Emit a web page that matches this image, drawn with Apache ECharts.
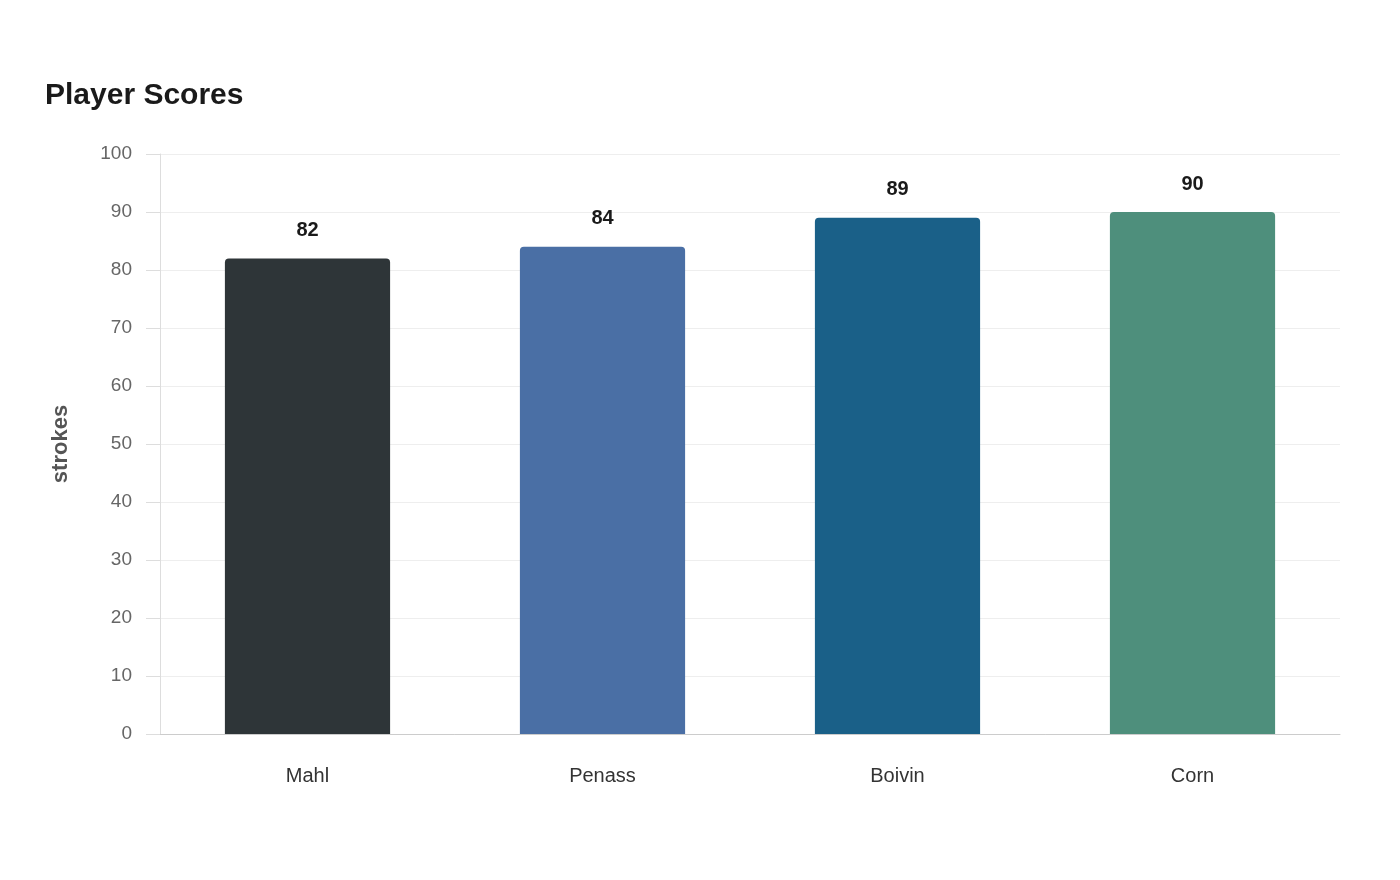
<!DOCTYPE html>
<html><head><meta charset="utf-8">
<script src="https://cdn.jsdelivr.net/npm/echarts@6/dist/echarts.min.js"></script>
<style>html,body{margin:0;padding:0;background:#fff}#c{width:1400px;height:880px}</style>
</head><body><div id="c"></div>
<script>
const categories = ["Mahl", "Penass", "Boivin", "Corn"];
const scores = [82, 84, 89, 90];
const colors = ["#2e3538", "#4a6fa5", "#1a6088", "#4e8f7c"];
const chart = echarts.init(document.getElementById('c'));
chart.setOption({
  animation: false,
  textStyle: { fontFamily: 'Liberation Sans, Arial, sans-serif' },
  title: { text: 'Player Scores', left: 40, top: 76,
    textStyle: { fontSize: 30, fontWeight: 'bold', color: '#1a1a1a' } },
  grid: { left: 160, right: 60, top: 154, bottom: 146 },
  xAxis: { type: 'category', data: categories,
    axisLine: { lineStyle: { color: '#ccc' } }, axisTick: { show: false },
    axisLabel: { fontSize: 20, color: '#333', margin: 32 } },
  yAxis: { type: 'value', min: 0, max: 100, interval: 10,
    name: 'strokes', nameLocation: 'middle', nameGap: 88,
    nameTextStyle: { fontSize: 22, fontWeight: 'bold', color: '#555' },
    axisLine: { show: true, lineStyle: { color: '#ddd' } },
    axisTick: { show: true, length: 14, lineStyle: { color: '#ddd' } },
    splitLine: { lineStyle: { color: '#eee' } },
    axisLabel: { fontSize: 19, color: '#666', margin: 28 } },
  series: [{ type: 'bar', barWidth: '56%',
    data: scores.map((v, i) => ({ value: v, itemStyle: { color: colors[i] } })),
    itemStyle: { borderRadius: [4, 4, 0, 0] },
    label: { show: true, position: 'top', distance: 18, fontSize: 20, fontWeight: 'bold', color: '#1a1a1a' } }]
});
</script></body></html>
